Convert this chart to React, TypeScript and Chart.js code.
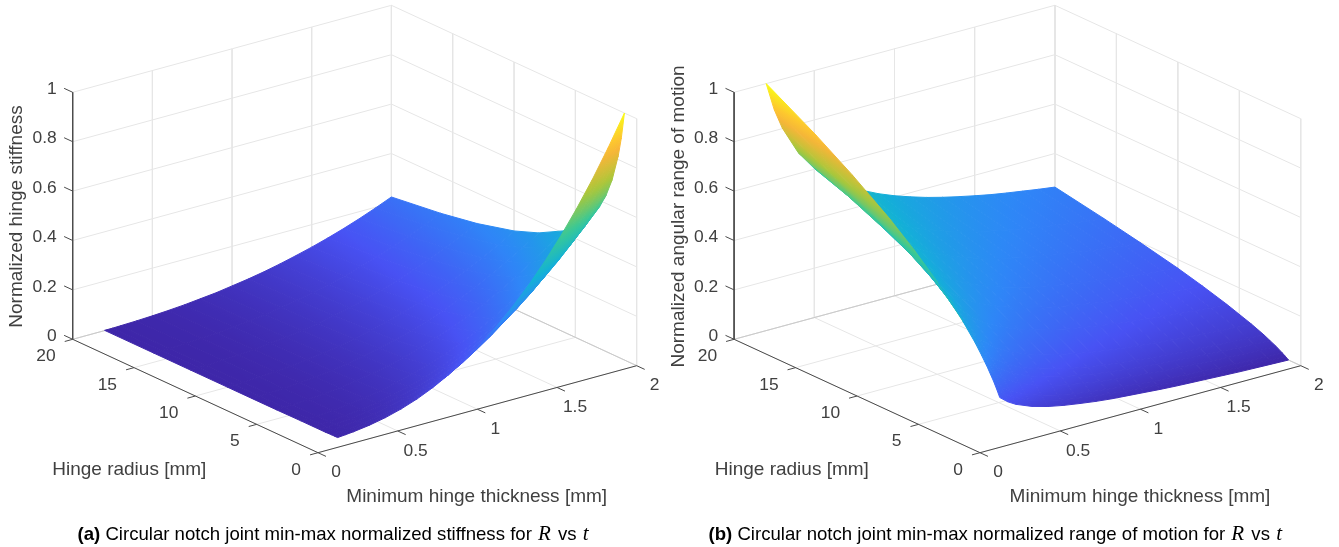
import React, { useEffect, useRef } from "react";
import { Chart, registerables } from "chart.js";

Chart.register(...registerables);

const thicknessValues = [0.2, 0.25, 0.3, 0.4, 0.5, 0.6, 0.7, 0.8, 0.9, 1, 1.1, 1.2, 1.3, 1.4, 1.5, 1.6, 1.7, 1.8, 1.9, 2];
const radiusValues = [1, 1.25, 1.5, 2, 2.5, 3, 4, 6, 8, 10, 13, 16, 20];

// one row per hinge radius, one column per thickness
const stiffnessValues = [
  [0.003, 0.006, 0.009, 0.018, 0.031, 0.049, 0.072, 0.101, 0.136, 0.177, 0.224, 0.279, 0.341, 0.41, 0.487, 0.572, 0.666, 0.768, 0.88, 1],
  [0.003, 0.005, 0.008, 0.016, 0.028, 0.044, 0.065, 0.091, 0.121, 0.158, 0.201, 0.249, 0.305, 0.367, 0.436, 0.512, 0.596, 0.687, 0.787, 0.894],
  [0.003, 0.005, 0.007, 0.015, 0.026, 0.04, 0.059, 0.083, 0.111, 0.144, 0.183, 0.228, 0.278, 0.335, 0.398, 0.467, 0.544, 0.627, 0.718, 0.816],
  [0.002, 0.004, 0.006, 0.013, 0.022, 0.035, 0.051, 0.072, 0.096, 0.125, 0.159, 0.197, 0.241, 0.29, 0.344, 0.405, 0.471, 0.543, 0.622, 0.707],
  [0.002, 0.003, 0.006, 0.011, 0.02, 0.031, 0.046, 0.064, 0.086, 0.112, 0.142, 0.176, 0.215, 0.259, 0.308, 0.362, 0.421, 0.486, 0.556, 0.632],
  [0.002, 0.003, 0.005, 0.01, 0.018, 0.028, 0.042, 0.058, 0.078, 0.102, 0.13, 0.161, 0.197, 0.237, 0.281, 0.331, 0.385, 0.444, 0.508, 0.577],
  [0.002, 0.003, 0.004, 0.009, 0.016, 0.025, 0.036, 0.051, 0.068, 0.088, 0.112, 0.139, 0.17, 0.205, 0.244, 0.286, 0.333, 0.384, 0.44, 0.5],
  [0.001, 0.002, 0.004, 0.007, 0.013, 0.02, 0.03, 0.041, 0.055, 0.072, 0.092, 0.114, 0.139, 0.167, 0.199, 0.234, 0.272, 0.314, 0.359, 0.408],
  [0.001, 0.002, 0.003, 0.006, 0.011, 0.017, 0.026, 0.036, 0.048, 0.063, 0.079, 0.099, 0.12, 0.145, 0.172, 0.202, 0.236, 0.272, 0.311, 0.354],
  [0.001, 0.002, 0.003, 0.006, 0.01, 0.016, 0.023, 0.032, 0.043, 0.056, 0.071, 0.088, 0.108, 0.13, 0.154, 0.181, 0.211, 0.243, 0.278, 0.316],
  [0.001, 0.002, 0.002, 0.005, 0.009, 0.014, 0.02, 0.028, 0.038, 0.049, 0.062, 0.077, 0.094, 0.114, 0.135, 0.159, 0.185, 0.213, 0.244, 0.277],
  [0.001, 0.001, 0.002, 0.004, 0.008, 0.012, 0.018, 0.025, 0.034, 0.044, 0.056, 0.07, 0.085, 0.102, 0.122, 0.143, 0.167, 0.192, 0.22, 0.25],
  [0.001, 0.001, 0.002, 0.004, 0.007, 0.011, 0.016, 0.023, 0.03, 0.04, 0.05, 0.062, 0.076, 0.092, 0.109, 0.128, 0.149, 0.172, 0.197, 0.224],
];

const motionValues = [
  [0.165, 0.139, 0.12, 0.094, 0.076, 0.063, 0.053, 0.044, 0.037, 0.032, 0.027, 0.022, 0.018, 0.015, 0.012, 0.009, 0.006, 0.004, 0.002, 0],
  [0.193, 0.165, 0.144, 0.114, 0.094, 0.079, 0.068, 0.058, 0.051, 0.044, 0.039, 0.034, 0.029, 0.026, 0.022, 0.019, 0.016, 0.014, 0.011, 0.009],
  [0.219, 0.187, 0.165, 0.132, 0.11, 0.094, 0.081, 0.071, 0.063, 0.056, 0.05, 0.044, 0.04, 0.035, 0.032, 0.028, 0.025, 0.022, 0.019, 0.017],
  [0.264, 0.228, 0.202, 0.165, 0.139, 0.12, 0.106, 0.094, 0.084, 0.076, 0.069, 0.063, 0.057, 0.053, 0.048, 0.044, 0.041, 0.037, 0.034, 0.032],
  [0.304, 0.264, 0.235, 0.193, 0.165, 0.144, 0.127, 0.114, 0.103, 0.094, 0.086, 0.079, 0.073, 0.068, 0.063, 0.058, 0.054, 0.051, 0.047, 0.044],
  [0.341, 0.297, 0.264, 0.219, 0.187, 0.165, 0.147, 0.132, 0.12, 0.11, 0.102, 0.094, 0.087, 0.081, 0.076, 0.071, 0.067, 0.063, 0.059, 0.056],
  [0.405, 0.354, 0.317, 0.264, 0.228, 0.202, 0.181, 0.165, 0.151, 0.139, 0.129, 0.12, 0.113, 0.106, 0.1, 0.094, 0.089, 0.084, 0.08, 0.076],
  [0.513, 0.451, 0.405, 0.341, 0.297, 0.264, 0.239, 0.219, 0.202, 0.187, 0.175, 0.165, 0.155, 0.147, 0.139, 0.132, 0.126, 0.12, 0.115, 0.11],
  [0.604, 0.533, 0.48, 0.405, 0.354, 0.317, 0.288, 0.264, 0.245, 0.228, 0.214, 0.202, 0.191, 0.181, 0.172, 0.165, 0.157, 0.151, 0.145, 0.139],
  [0.685, 0.604, 0.545, 0.462, 0.405, 0.363, 0.331, 0.304, 0.283, 0.264, 0.248, 0.235, 0.222, 0.212, 0.202, 0.193, 0.185, 0.178, 0.171, 0.165],
  [0.791, 0.7, 0.632, 0.537, 0.473, 0.425, 0.388, 0.358, 0.333, 0.312, 0.294, 0.278, 0.264, 0.252, 0.241, 0.231, 0.221, 0.213, 0.205, 0.198],
  [0.886, 0.785, 0.71, 0.604, 0.533, 0.48, 0.438, 0.405, 0.378, 0.354, 0.334, 0.317, 0.301, 0.288, 0.275, 0.264, 0.254, 0.245, 0.236, 0.228],
  [1.0, 0.886, 0.803, 0.685, 0.604, 0.545, 0.499, 0.462, 0.431, 0.405, 0.383, 0.363, 0.346, 0.331, 0.317, 0.304, 0.293, 0.283, 0.273, 0.264],
];

const zTicks = [0, 0.2, 0.4, 0.6, 0.8, 1];
const zTickLabels = ["0", "0.2", "0.4", "0.6", "0.8", "1"];
const radiusTicks = [0, 5, 10, 15, 20];
const radiusTickLabels = ["0", "5", "10", "15", "20"];
const thicknessTicks = [0, 0.5, 1, 1.5, 2];
const thicknessTickLabels = ["0", "0.5", "1", "1.5", "2"];

const radiusTitle = "Hinge radius [mm]";
const thicknessTitle = "Minimum hinge thickness [mm]";

const parula = [
  [62, 38, 168],
  [72, 82, 244],
  [46, 135, 247],
  [18, 177, 214],
  [55, 200, 151],
  [171, 199, 57],
  [254, 180, 56],
  [249, 251, 21],
];

function colourAt(z: number) {
  const v = Math.min(1, Math.max(0, z)) * (parula.length - 1);
  const i = Math.min(parula.length - 2, Math.floor(v));
  const f = v - i;
  const c = parula[i].map((p, k) => Math.round(p + (parula[i + 1][k] - p) * f));
  return `rgb(${c[0]},${c[1]},${c[2]})`;
}

type Geometry = { fx: number; fy: number; ux: number; uy: number; vx: number; vy: number; wz: number };

const projector = (g: Geometry) => (t: number, r: number, z: number) => ({
  x: g.fx + (t / 2) * g.ux + (r / 20) * g.vx,
  y: g.fy + (t / 2) * g.uy + (r / 20) * g.vy - z * g.wz,
});

function line(points: { x: number; y: number }[], color: string, width: number) {
  return {
    data: points,
    showLine: true,
    borderColor: color,
    borderWidth: width,
    pointRadius: 0,
    fill: false,
  };
}

function surfaceDatasets(
  ctx: CanvasRenderingContext2D,
  values: number[][],
  project: ReturnType<typeof projector>,
) {
  const out: any[] = [];
  // far cells first in this list; reversed afterwards because Chart.js paints the last dataset first
  for (let r = radiusValues.length - 2; r >= 0; r--) {
    for (let c = thicknessValues.length - 2; c >= 0; c--) {
      const zs = [values[r][c], values[r][c + 1], values[r + 1][c + 1], values[r + 1][c]];
      const pts = [
        project(thicknessValues[c], radiusValues[r], zs[0]),
        project(thicknessValues[c + 1], radiusValues[r], zs[1]),
        project(thicknessValues[c + 1], radiusValues[r + 1], zs[2]),
        project(thicknessValues[c], radiusValues[r + 1], zs[3]),
      ];
      const d1 = { x: pts[2].x - pts[0].x, y: pts[2].y - pts[0].y, z: zs[2] - zs[0] };
      const d2 = { x: pts[3].x - pts[1].x, y: pts[3].y - pts[1].y, z: zs[3] - zs[1] };
      const det = d1.x * d2.y - d1.y * d2.x;
      const meanZ = (zs[0] + zs[1] + zs[2] + zs[3]) / 4;
      let paint: any = colourAt(meanZ);
      if (Math.abs(det) > 1e-3) {
        const a = (d1.z * d2.y - d1.y * d2.z) / det;
        const b = (d1.x * d2.z - d1.z * d2.x) / det;
        const n2 = a * a + b * b;
        if (n2 > 1e-12) {
          const ss = pts.map((p) => a * p.x + b * p.y);
          const offset = meanZ - ss.reduce((s, v) => s + v, 0) / 4;
          const lo = Math.min(...ss);
          const hi = Math.max(...ss);
          const start = pts[ss.indexOf(lo)];
          const span = (hi - lo) / n2;
          const zLo = Math.max(Math.min(...zs), lo + offset);
          const zHi = Math.min(Math.max(...zs), hi + offset);
          const grad = ctx.createLinearGradient(start.x, start.y, start.x + a * span, start.y + b * span);
          for (let k = 0; k <= 4; k++) grad.addColorStop(k / 4, colourAt(zLo + ((zHi - zLo) * k) / 4));
          paint = grad;
        }
      }
      out.push({
        data: [...pts, pts[0]],
        showLine: true,
        fill: "shape",
        backgroundColor: paint,
        borderColor: paint,
        borderWidth: 1,
        borderJoinStyle: "round",
        pointRadius: 0,
      });
    }
  }
  return out;
}

function frameDatasets(project: ReturnType<typeof projector>) {
  const grid = "#e6e6e6";
  const edge = "#c9c9c9";
  const axis = "#4a4a4a";
  const out: any[] = [];
  for (const z of zTicks) {
    out.push(line([project(0, 20, z), project(2, 20, z), project(2, 0, z)], grid, 1));
  }
  for (const t of thicknessTicks) {
    out.push(line([project(t, 20, 1), project(t, 20, 0), project(t, 0, 0)], grid, 1));
  }
  for (const r of radiusTicks) {
    out.push(line([project(2, r, 1), project(2, r, 0), project(0, r, 0)], grid, 1));
  }
  out.push(line([project(0, 20, 0), project(2, 20, 0), project(2, 0, 0)], edge, 1));
  // axes and tick marks
  out.push(line([project(0, 20, 1), project(0, 20, 0), project(0, 0, 0), project(2, 0, 0)], axis, 1));
  for (const z of zTicks) out.push(line([project(0, 20, z), project(0, 20.7, z)], axis, 1));
  for (const r of radiusTicks) out.push(line([project(0, r, 0), project(-0.05, r, 0)], axis, 1));
  for (const t of thicknessTicks) out.push(line([project(t, 0, 0), project(t, -0.65, 0)], axis, 1));
  return out;
}

function textPlugin(project: ReturnType<typeof projector>, zTitle: string, dx: { r: number; t: number; z: number }) {
  return {
    id: "axisText",
    afterDraw(chart: any) {
      const ctx: CanvasRenderingContext2D = chart.ctx;
      ctx.save();
      ctx.fillStyle = "#404040";
      ctx.textBaseline = "middle";
      ctx.font = '17.4px "Liberation Sans", Arial, sans-serif';
      ctx.textAlign = "right";
      zTicks.forEach((z, i) => {
        const p = project(0, 20, z);
        ctx.fillText(zTickLabels[i], p.x - 16, p.y - 3);
      });
      radiusTicks.forEach((r, i) => {
        const p = project(0, r, 0);
        ctx.fillText(radiusTickLabels[i], p.x - 17, p.y + 17.2);
      });
      ctx.textAlign = "center";
      thicknessTicks.forEach((t, i) => {
        const p = project(t, 0, 0);
        ctx.fillText(thicknessTickLabels[i], p.x + 18, p.y + 20);
      });
      ctx.font = '19px "Liberation Sans", Arial, sans-serif';
      ctx.fillText(radiusTitle, dx.r, 469.5);
      ctx.fillText(thicknessTitle, dx.t, 496.5);
      ctx.translate(dx.z, 216.5);
      ctx.rotate(-Math.PI / 2);
      ctx.fillText(zTitle, 0, 0);
      ctx.restore();
    },
  };
}

function Panel(props: {
  left: number;
  width: number;
  values: number[][];
  geometry: Geometry;
  zTitle: string;
  dx: { r: number; t: number; z: number };
}) {
  const ref = useRef<HTMLCanvasElement | null>(null);
  useEffect(() => {
    const canvas = ref.current!;
    const ctx = canvas.getContext("2d")!;
    const project = projector(props.geometry);
    const surface = surfaceDatasets(ctx, props.values, project);
    const frame = frameDatasets(project);
    // Chart.js paints datasets from last to first
    const datasets = [...surface.reverse(), ...frame.reverse()];
    const chart = new Chart(canvas, {
      type: "scatter",
      data: { datasets },
      options: {
        responsive: false,
        animation: false,
        events: [],
        layout: { padding: 0 },
        scales: {
          x: { type: "linear", min: 0, max: props.width, display: false },
          y: { type: "linear", min: 0, max: 547, reverse: true, display: false },
        },
        plugins: { legend: { display: false }, tooltip: { enabled: false }, title: { display: false } },
      },
      plugins: [textPlugin(project, props.zTitle, props.dx)],
    } as any);
    return () => chart.destroy();
  }, []);
  return (
    <canvas
      ref={ref}
      width={props.width}
      height={547}
      style={{ position: "absolute", left: props.left, top: 0, width: props.width, height: 547, filter: "blur(0.4px)" }}
    />
  );
}

const captionStyle: React.CSSProperties = {
  position: "absolute",
  top: 521,
  whiteSpace: "nowrap",
  fontFamily: '"Liberation Sans", Arial, sans-serif',
  fontSize: 18.6,
  lineHeight: "24px",
  color: "#000",
  filter: "blur(0.3px)",
};
const mathStyle: React.CSSProperties = { fontFamily: '"Liberation Serif", serif', fontStyle: "italic", fontSize: 21, marginLeft: 1, marginRight: 2 };

export default function App() {
  useEffect(() => {
    document.body.style.margin = "0";
    document.body.style.background = "#fff";
  }, []);
  return (
    <div style={{ position: "fixed", left: 0, top: 0, width: 1339, height: 547, overflow: "hidden", background: "#fff" }}>
      <Panel
        left={0}
        width={662}
        values={stiffnessValues}
        geometry={{ fx: 318, fy: 452.7, ux: 318.7, uy: -87, vx: -245.3, vy: -113.4, wz: 247 }}
        zTitle="Normalized hinge stiffness"
        dx={{ r: 129.3, t: 476.7, z: 16.5 }}
      />
      <Panel
        left={662}
        width={677}
        values={motionValues}
        geometry={{ fx: 318, fy: 452.7, ux: 320.8, uy: -87, vx: -245.9, vy: -113.4, wz: 247 }}
        zTitle="Normalized angular range of motion"
        dx={{ r: 129.8, t: 478, z: 17.2 }}
      />
      <div style={{ ...captionStyle, left: 77.5 }}>
        <b>(a)</b> Circular notch joint min-max normalized stiffness for <span style={mathStyle}>R</span> vs <span style={mathStyle}>t</span>
      </div>
      <div style={{ ...captionStyle, left: 708.5 }}>
        <b>(b)</b> Circular notch joint min-max normalized range of motion for <span style={mathStyle}>R</span> vs <span style={mathStyle}>t</span>
      </div>
    </div>
  );
}
